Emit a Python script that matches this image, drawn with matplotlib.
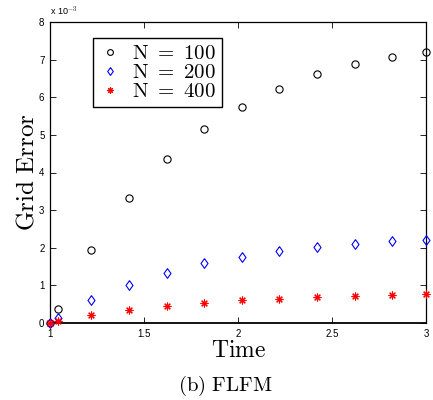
import matplotlib
matplotlib.use("Agg")
import matplotlib.pyplot as plt

plt.rcParams['mathtext.fontset'] = 'cm'
plt.rcParams['font.family'] = ['Liberation Sans', 'DejaVu Sans']

# time samples and grid errors (units of 1e-3)
time = [1.0, 1.04, 1.22, 1.42, 1.62, 1.82, 2.02, 2.22, 2.42, 2.62, 2.82, 3.0]
err_100 = [0.0, 0.36, 1.93, 3.31, 4.35, 5.15, 5.74, 6.23, 6.61, 6.89, 7.07, 7.19]
err_200 = [0.0, 0.12, 0.60, 1.01, 1.34, 1.59, 1.76, 1.91, 2.02, 2.11, 2.17, 2.21]
err_400 = [0.0, 0.05, 0.20, 0.34, 0.45, 0.53, 0.60, 0.65, 0.69, 0.72, 0.74, 0.76]

x_ticks = [1, 1.5, 2, 2.5, 3]
x_ticklabels = ['1', '1.5', '2', '2.5', '3']
y_ticks = [0, 1, 2, 3, 4, 5, 6, 7, 8]

# matlab-style diamond (wider than mpl 'd')
diamond = [(0, 1), (0.72, 0), (0, -1), (-0.72, 0), (0, 1)]

fig = plt.figure(figsize=(4.33, 4.0), dpi=100)
ax = fig.add_axes([0.1155, 0.1925, 0.8685, 0.7525])

ax.plot(time, err_100, 'o', ls='none', mfc='none', mec='black', ms=5.2, mew=0.8,
        label=r'$\mathrm{N\ =\ 100}$', clip_on=False, zorder=3)
ax.plot(time, err_200, marker=diamond, ls='none', mfc='none', mec='blue', ms=7, mew=0.8,
        label=r'$\mathrm{N\ =\ 200}$', clip_on=False, zorder=3)
ax.plot(time, err_400, marker=(8, 2, 0), ls='none', mec='red', ms=5.6, mew=0.8,
        label=r'$\mathrm{N\ =\ 400}$', clip_on=False, zorder=3)

ax.set_xlim(1, 3)
ax.set_ylim(0, 8)
ax.set_xticks(x_ticks)
ax.set_xticklabels(x_ticklabels)
ax.set_yticks(y_ticks)
ax.tick_params(direction='in', top=True, right=True, length=4, width=0.6,
               labelsize=7, pad=4)
for s in ax.spines.values():
    s.set_linewidth(0.9)
ax.spines['bottom'].set_linewidth(1.3)

ax.text(0.0, 1.012, r'x 10$^{-3}$', transform=ax.transAxes, fontsize=6.5,
        ha='left', va='bottom')

ax.set_ylabel(r'$\mathrm{Grid\ Error}$', fontsize=18, labelpad=0)
ax.set_xlabel(r'$\mathrm{Time}$', fontsize=17, labelpad=1)
fig.text(0.52, 0.035, r'$\mathrm{(b)\ FLFM}$', fontsize=15, ha='center', va='center')

leg = ax.legend(loc='upper left', bbox_to_anchor=(0.114, 0.947), borderaxespad=0,
                fontsize=15, fancybox=False, framealpha=1, edgecolor='black',
                handlelength=1.0, handletextpad=0.6, labelspacing=0.0,
                borderpad=0.3, markerscale=0.8)
leg.get_frame().set_linewidth(1.0)

fig.savefig('out.png', dpi=100)
